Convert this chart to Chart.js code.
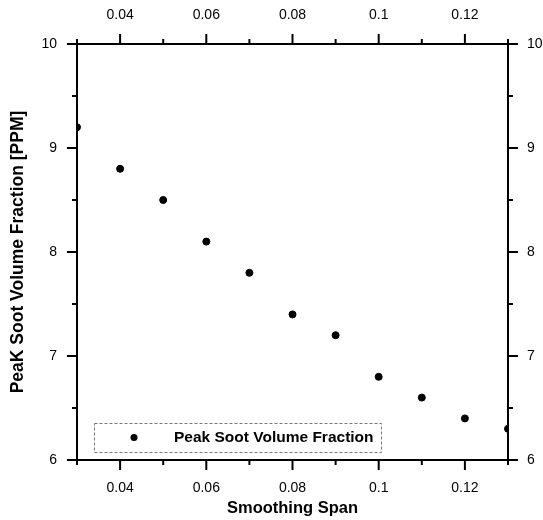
<!DOCTYPE html>
<html>
<head>
<meta charset="utf-8">
<script src="https://cdn.jsdelivr.net/npm/chart.js@4/dist/chart.umd.min.js"></script>
<style>
  body { margin: 0; background: #fff; }
</style>
</head>
<body>
<canvas id="grafico" width="543" height="520"></canvas>
<script>
const spans = [0.03, 0.04, 0.05, 0.06, 0.07, 0.08, 0.09, 0.10, 0.11, 0.12, 0.13]
const peakSoot = [9.2, 8.8, 8.5, 8.1, 7.8, 7.4, 7.2, 6.8, 6.6, 6.4, 6.3]
const xLabeled = [0.04, 0.06, 0.08, 0.1, 0.12]
const yLabeled = [6, 7, 8, 9, 10]
const serieNome = 'Peak Soot Volume Fraction'

const fonte = '"Liberation Sans", Arial, sans-serif'

function temLabel(lista, v) {
  return lista.some((l) => Math.abs(l - v) < 1e-6)
}
function fmt(v) {
  return String(+v.toFixed(2))
}

const xTicks = {
  stepSize: 0.01,
  color: '#000',
  font: { family: fonte, size: 14 },
  maxRotation: 0,
  autoSkip: false,
  callback: (v) => temLabel(xLabeled, v) ? fmt(v) : ''
}
const yTicks = {
  stepSize: 0.5,
  color: '#000',
  font: { family: fonte, size: 14 },
  autoSkip: false,
  callback: (v) => temLabel(yLabeled, v) ? fmt(v) : ''
}
const borda = { display: true, color: '#000', width: 2 }
const grade = { display: false, drawTicks: false }

// marcas de escala (maiores onde tem rotulo)
const marcas = {
  id: 'marcas',
  afterDraw(chart) {
    const ctx = chart.ctx
    const a = chart.chartArea
    ctx.save()
    ctx.strokeStyle = '#000'
    ctx.lineWidth = 2
    ;['x', 'x2', 'y', 'y2'].forEach((id) => {
      const s = chart.scales[id]
      const lista = id.startsWith('x') ? xLabeled : yLabeled
      s.ticks.forEach((t, i) => {
        const p = s.getPixelForTick(i)
        const len = temLabel(lista, t.value) ? 10 : 5
        ctx.beginPath()
        if (id === 'x') { ctx.moveTo(p, a.bottom); ctx.lineTo(p, a.bottom + len) }
        if (id === 'x2') { ctx.moveTo(p, a.top); ctx.lineTo(p, a.top - len) }
        if (id === 'y') { ctx.moveTo(a.left - len, p); ctx.lineTo(a.left, p) }
        if (id === 'y2') { ctx.moveTo(a.right, p); ctx.lineTo(a.right + len, p) }
        ctx.stroke()
      })
    })
    // legenda dentro do grafico
    const bx = a.left + 17, by = a.bottom - 37, bw = 287, bh = 29
    ctx.lineWidth = 1
    ctx.strokeStyle = '#777'
    ctx.setLineDash([3, 2])
    ctx.strokeRect(bx + 0.5, by + 0.5, bw, bh)
    ctx.setLineDash([])
    ctx.fillStyle = '#000'
    ctx.beginPath()
    ctx.arc(bx + 40, by + 14.5, 3.5, 0, Math.PI * 2)
    ctx.fill()
    ctx.font = 'bold 15.5px ' + fonte
    ctx.textBaseline = 'middle'
    ctx.fillText(serieNome, bx + 80, by + 15)
    ctx.restore()
  }
}

const ctx = document.getElementById('grafico')

new Chart(ctx, {
  type: 'scatter',
  data: {
    datasets: [{
      label: serieNome,
      data: spans.map((s, i) => ({ x: s, y: peakSoot[i] })),
      backgroundColor: '#000',
      borderColor: '#000',
      pointRadius: 3.5,
      pointHoverRadius: 3.5,
      xAxisID: 'x',
      yAxisID: 'y'
    }]
  },
  options: {
    responsive: false,
    animation: false,
    layout: { padding: 0 },
    plugins: { legend: { display: false }, tooltip: { enabled: false } },
    scales: {
      x: {
        type: 'linear', position: 'bottom', min: 0.03, max: 0.13,
        ticks: { ...xTicks, padding: 20 },
        grid: grade, border: borda,
        title: { display: true, text: 'Smoothing Span', color: '#000', font: { family: fonte, size: 16.5, weight: 'bold' }, padding: { top: 0, bottom: 2 } },
        afterFit: (s) => { s.height = 60 }
      },
      x2: {
        type: 'linear', position: 'top', min: 0.03, max: 0.13,
        ticks: { ...xTicks, padding: 20 },
        grid: grade, border: borda,
        afterFit: (s) => { s.height = 44 }
      },
      y: {
        type: 'linear', position: 'left', min: 6, max: 10,
        ticks: { ...yTicks, padding: 20 },
        grid: grade, border: borda,
        title: { display: true, text: 'PeaK Soot Volume Fraction [PPM]', color: '#000', font: { family: fonte, size: 17.5, weight: 'bold' }, padding: { top: 8, bottom: 0 } },
        afterFit: (s) => { s.width = 77 }
      },
      y2: {
        type: 'linear', position: 'right', min: 6, max: 10,
        ticks: { ...yTicks, padding: 19 },
        grid: grade, border: borda,
        afterFit: (s) => { s.width = 35 }
      }
    }
  },
  plugins: [marcas]
})
</script>
</body>
</html>
